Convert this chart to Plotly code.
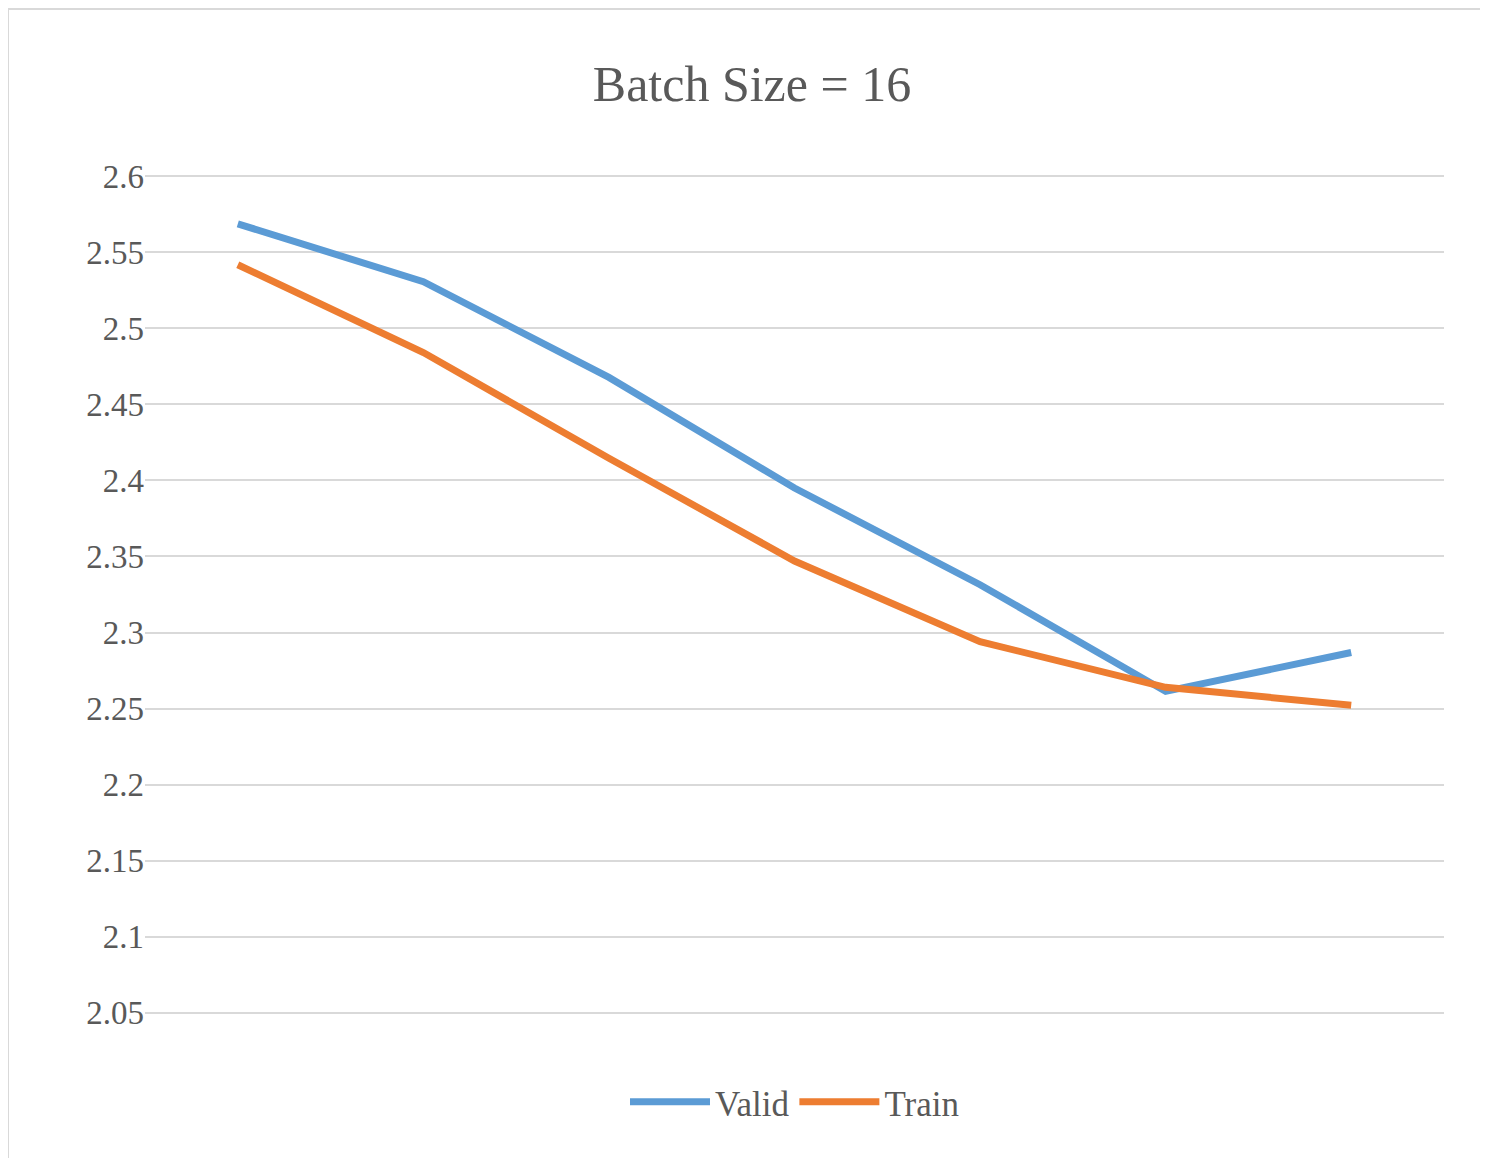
import plotly.graph_objects as go

epochs = [1, 2, 3, 4, 5, 6, 7]
valid = [2.5686, 2.5306, 2.4677, 2.3950, 2.3314, 2.2613, 2.2869]
train = [2.5417, 2.4840, 2.4146, 2.3470, 2.2940, 2.2640, 2.2522]

serif = 'Liberation Serif, Times New Roman, DejaVu Serif, serif'

fig = go.Figure()
fig.add_trace(go.Scatter(x=epochs, y=valid, mode='lines', name='Valid',
                         line=dict(color='#5b9bd5', width=7)))
fig.add_trace(go.Scatter(x=epochs, y=train, mode='lines', name='Train',
                         line=dict(color='#ed7d31', width=7)))

fig.update_layout(
    width=1488, height=1158,
    paper_bgcolor='white', plot_bgcolor='white',
    font=dict(family=serif, color='#595959', size=32),
    title=dict(text='Batch Size = 16', x=0.5, xanchor='center', y=0.935, yanchor='middle',
               font=dict(family=serif, size=50, color='#595959')),
    margin=dict(l=137, r=52, t=167, b=152),
    xaxis=dict(range=[0.5, 7.5], showgrid=False, showticklabels=False, zeroline=False,
               showline=False, fixedrange=True),
    yaxis=dict(range=[2.0493, 2.6007], tickvals=[2.05 + 0.05 * i for i in range(12)],
               ticktext=['2.05', '2.1', '2.15', '2.2', '2.25', '2.3', '2.35', '2.4',
                         '2.45', '2.5', '2.55', '2.6'],
               showgrid=True, gridcolor='#d9d9d9', gridwidth=2,
               zeroline=False, showline=False, ticks='', ticklen=0,
               tickfont=dict(family=serif, size=33, color='#595959')),
    legend=dict(orientation='h', x=0.5, xanchor='center', y=-0.105, yanchor='middle',
                itemwidth=80, font=dict(family=serif, size=35, color='#595959')),
    shapes=[dict(type='rect', xref='paper', yref='paper', x0=-137/1299, x1=1+51/1299,
                 y0=-151/839, y1=1+166/839, line=dict(color='#d9d9d9', width=2))],
)

fig.write_html("out.html")
